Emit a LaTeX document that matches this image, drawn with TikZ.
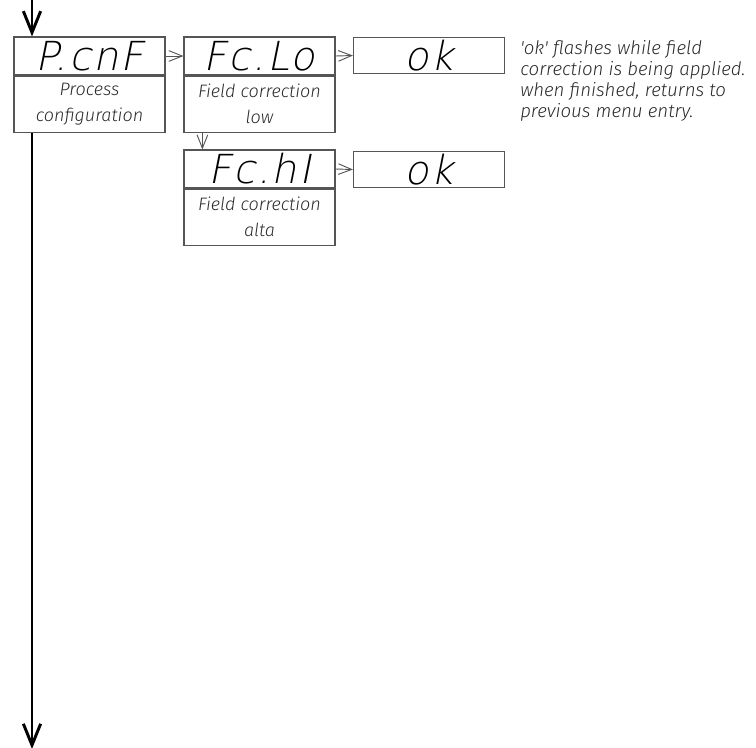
\documentclass[tikz,border=0pt]{standalone}
\usepackage{fontspec}
\usepackage{xcolor}
\usetikzlibrary{arrows.meta}
\setmainfont{Fira Sans}
\newfontfamily\notefont{Fira Sans Light}
\newfontfamily\segfont{DejaVu Sans ExtraLight}[FakeSlant=0.2,LetterSpace=5]
\definecolor{BoxGray}{HTML}{555555}
\definecolor{TextGray}{HTML}{2A2A2A}
\tikzset{
  disp/.style={draw=BoxGray,line width=.9pt,minimum width=113.25pt,minimum height=28.5pt,inner sep=0pt,
    font=\segfont\fontsize{30}{30}\selectfont},
  desc/.style={draw=BoxGray,line width=.9pt,minimum width=113.25pt,minimum height=42pt,inner sep=0pt,
    align=center,text=TextGray,anchor=north,font=\notefont\itshape\fontsize{13.5}{19.5}\selectfont},
  link/.style={draw=BoxGray,line width=.7pt,-{Straight Barb[length=10pt,width=8pt]}},
  flow/.style={line width=2.2pt,-{Straight Barb[length=16pt,width=13pt]}},
}
\begin{document}
\begin{tikzpicture}[x=0.75pt,y=-0.75pt]
\useasboundingbox (0,0) rectangle (756,747);
% main menu entry
\node[disp] (pcnf) at (89.5,56) {P.cnF};
\node[desc] (pcnfd) at (pcnf.south) {Process\\configuration};
% field correction low
\node[disp] (fclo) at (259.5,56) {Fc.Lo};
\node[desc] (fclod) at (fclo.south) {Field correction\\low};
\node[disp,minimum height=27pt] (ok1) at (429,55.5) {ok};
% field correction high
\node[disp] (fchi) at (259.5,169) {Fc.hI};
\node[desc] (fchid) at (fchi.south) {Field correction\\alta};
\node[disp,minimum height=27pt] (ok2) at (429,169.5) {ok};
\node[anchor=north west,align=left,inner sep=0pt,text=TextGray,
  font=\notefont\itshape\fontsize{14}{15.75}\selectfont] (note) at (520,40)
  {'ok' flashes while field\\correction is being applied.\\when finished, returns to\\previous menu entry.};
% connectors
\draw[link] (pcnf.east) -- (fclo.west);
\draw[link] (fclo.east) -- (ok1.west);
\draw[link] (fchi.east) -- (ok2.west);
\draw[link] ([xshift=14.25pt]fclod.south west) -- ([xshift=14.25pt]fchi.north west);
% main flow line
\coordinate (top) at (32,-5);
\coordinate (bottom) at (32,749);
\draw[flow] (top) -- (top |- pcnf.north);
\draw[flow] (top |- pcnfd.south) -- (bottom);
\end{tikzpicture}
\end{document}
